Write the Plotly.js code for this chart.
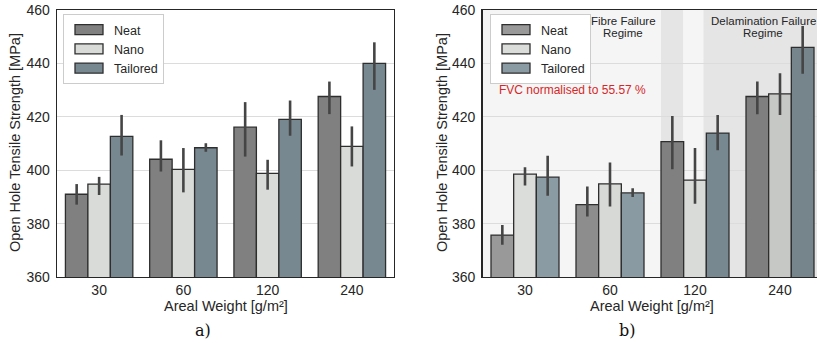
<!DOCTYPE html>
<html>
<head>
<meta charset="utf-8">
<script src="https://cdn.plot.ly/plotly-3.0.1.min.js"></script>
<style>
html,body{margin:0;padding:0;overflow:hidden;background:#fff;}
#chart{width:826px;height:343px;}
</style>
</head>
<body>
<div id="chart"></div>
<script>
// ---- data ----
const categories = ['30', '60', '120', '240'];
const seriesNames = ['Neat', 'Nano', 'Tailored'];

// panel a)
const neatA = [391.0, 404.1, 416.1, 427.6];
const neatAUp = [3.8, 7.1, 9.4, 5.6];
const neatADown = [3.9, 4.6, 11.0, 6.6];
const nanoA = [394.8, 400.3, 398.8, 408.9];
const nanoAUp = [2.7, 8.0, 5.1, 7.5];
const nanoADown = [4.1, 8.6, 6.1, 7.5];
const tailA = [412.7, 408.4, 419.0, 440.0];
const tailAUp = [8.0, 1.7, 7.1, 7.9];
const tailADown = [7.2, 1.5, 6.1, 9.9];

// panel b) FVC normalised
const neatB = [375.7, 387.1, 410.7, 427.6];
const neatBUp = [3.8, 6.8, 9.6, 5.6];
const neatBDown = [3.6, 4.4, 10.3, 6.6];
const nanoB = [398.5, 394.9, 396.3, 428.6];
const nanoBUp = [2.6, 8.0, 12.0, 7.7];
const nanoBDown = [4.2, 8.5, 8.9, 7.9];
const tailB = [397.4, 391.5, 413.9, 446.0];
const tailBUp = [8.0, 1.7, 6.8, 8.0];
const tailBDown = [7.0, 1.5, 6.4, 9.9];

const yTicks = [360, 380, 400, 420, 440, 460];

// ---- styles ----
const W = 826, H = 343;
const FONT = 'Liberation Sans, Arial, sans-serif';
const TXT = '#262626';
const colorsA = ['#808080', '#d9dbd8', '#778891'];
const colorsB = [
  ['#999999', '#8d8d8d', '#808080', '#7f7f7f'],
  ['#dbddda', '#d7d9d6', '#d9dbd8', '#c6c8c5'],
  ['#8a9ba3', '#8a9aa2', '#778891', '#76848c']
];
const errStyle = (up, down) => ({type: 'data', symmetric: false, array: up, arrayminus: down,
  color: '#454545', thickness: 2.6, width: 0});

function bar(name, y, up, down, color, xa, ya, legend, show) {
  return {type: 'bar', name: name, x: categories, y: y,
    xaxis: xa, yaxis: ya, legend: legend, showlegend: show,
    marker: {color: color, line: {color: '#2e2e2e', width: 1.3}},
    error_y: errStyle(up, down)};
}

const traces = [
  bar('Neat', neatA, neatAUp, neatADown, colorsA[0], 'x', 'y', 'legend', true),
  bar('Nano', nanoA, nanoAUp, nanoADown, colorsA[1], 'x', 'y', 'legend', true),
  bar('Tailored', tailA, tailAUp, tailADown, colorsA[2], 'x', 'y', 'legend', true),
  bar('Neat', neatB, neatBUp, neatBDown, colorsB[0], 'x2', 'y2', 'legend2', true),
  bar('Nano', nanoB, nanoBUp, nanoBDown, colorsB[1], 'x2', 'y2', 'legend2', true),
  bar('Tailored', tailB, tailBUp, tailBDown, colorsB[2], 'x2', 'y2', 'legend2', true)
];

const yTop = (H - 10) / H, yBot = (H - 277) / H;
const xDomA = [57 / W, 394 / W];
const xDomB = [482.5 / W, 822.5 / W];

function xaxis(dom, anchor) {
  return {domain: dom, anchor: anchor, type: 'category', range: [-0.5, 3.5],
    showgrid: false, zeroline: false, ticks: '', ticklen: 0, showline: true, linecolor: '#262626', linewidth: 1.3,
    mirror: true, tickfont: {family: FONT, size: 14, color: TXT}, fixedrange: true};
}
function yaxis(anchor) {
  return {domain: [yBot, yTop], anchor: anchor, range: [360, 460], tickvals: yTicks,
    showgrid: true, gridcolor: '#dcdcdc', gridwidth: 1.3, zeroline: false, ticks: '', ticklen: 0,
    showline: true, linecolor: '#262626', linewidth: 1.3, mirror: true,
    tickfont: {family: FONT, size: 14, color: TXT}, ticklabelstandoff: 3, fixedrange: true};
}

const legendStyle = (x) => ({x: x, y: (H - 14) / H, xref: 'paper', yref: 'paper', xanchor: 'left', yanchor: 'top',
  bgcolor: 'rgba(255,255,255,0.95)', bordercolor: '#cccccc', borderwidth: 1,
  font: {family: FONT, size: 12.5, color: TXT}, itemwidth: 40, tracegroupgap: 0, traceorder: 'normal'});

function ann(text, x, y, opts) {
  return Object.assign({text: text, xref: 'paper', yref: 'paper', x: x / W, y: (H - y) / H,
    xanchor: 'center', yanchor: 'middle', showarrow: false,
    font: {family: FONT, size: 14.5, color: TXT}}, opts || {});
}
const small = {family: FONT, size: 11.5, color: TXT};

const layout = {
  width: W, height: H, margin: {l: 0, r: 0, t: 0, b: 0},
  paper_bgcolor: '#ffffff', plot_bgcolor: 'rgba(0,0,0,0)',
  barmode: 'group', bargap: 0.2, bargroupgap: 0,
  xaxis: xaxis(xDomA, 'y'), yaxis: yaxis('x'),
  xaxis2: xaxis(xDomB, 'y2'), yaxis2: yaxis('x2'),
  legend: legendStyle(63 / W),
  legend2: legendStyle(490 / W),
  shapes: [
    {type: 'rect', xref: 'x2 domain', yref: 'y2 domain', x0: 0, x1: 1, y0: 0, y1: 1,
      fillcolor: '#f5f5f5', line: {width: 0}, layer: 'below'},
    {type: 'rect', xref: 'x2', yref: 'y2 domain', x0: 1.6, x1: 1.86, y0: 0, y1: 1,
      fillcolor: '#e5e5e5', line: {width: 0}, layer: 'below'},
    {type: 'rect', xref: 'x2', yref: 'y2 domain', x0: 2.1, x1: 3.6, y0: 0, y1: 1,
      fillcolor: '#e5e5e5', line: {width: 0}, layer: 'below'}
  ],
  annotations: [
    ann('Open Hole Tensile Strength [MPa]', 15, 143, {textangle: -90}),
    ann('Open Hole Tensile Strength [MPa]', 442, 143, {textangle: -90}),
    ann('Areal Weight [g/m²]', 226, 306),
    ann('Areal Weight [g/m²]', 652, 306),
    ann('a)', 203, 330, {font: {family: 'DejaVu Serif, serif', size: 16, color: '#111'}}),
    ann('b)', 627, 330, {font: {family: 'DejaVu Serif, serif', size: 16, color: '#111'}}),
    ann('Fibre Failure', 623, 20.5, {font: small}),
    ann('Regime', 623, 33.5, {font: small}),
    ann('Delamination Failure', 763, 20.5, {font: small}),
    ann('Regime', 763, 33.5, {font: small}),
    ann('FVC normalised to 55.57 %', 497, 90, {xanchor: 'left', font: {family: FONT, size: 12, color: '#d62728'}})
  ]
};

Plotly.newPlot('chart', traces, layout, {staticPlot: true, displayModeBar: false}).then(() => {
  document.querySelectorAll('.legendpoints path').forEach(p => {
    p.setAttribute('d', 'M14,5H-14V-5H14Z');
  });
});
</script>
</body>
</html>
